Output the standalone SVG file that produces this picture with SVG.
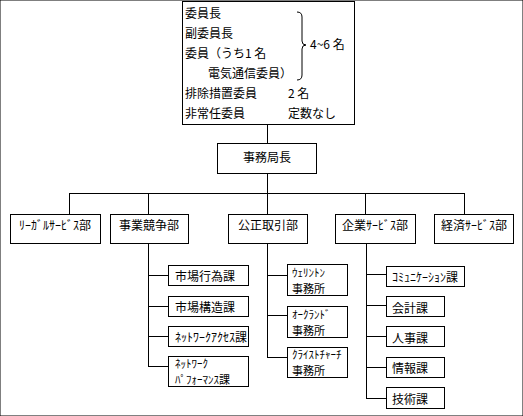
<svg xmlns="http://www.w3.org/2000/svg" width="523" height="416" viewBox="0 0 523 416">
<style>
rect{fill:#fff;stroke:#000;stroke-width:1}
.c line,.c path{stroke:#000;stroke-width:1;fill:none}
text{font-family:"Noto Sans CJK JP","Noto Sans",sans-serif;font-size:12px;fill:#000}
.m{text-anchor:middle}
.s{font-size:11px}
</style>
<rect width="523" height="416" fill="#fff" stroke="none"/>
<g class="c" shape-rendering="crispEdges">
<line x1="267.5" y1="124" x2="267.5" y2="143"/>
<line x1="267.5" y1="173" x2="267.5" y2="193"/>
<line x1="69.5" y1="193.5" x2="464.5" y2="193.5"/>
<line x1="69.5" y1="193" x2="69.5" y2="214"/>
<line x1="148.5" y1="193" x2="148.5" y2="214"/>
<line x1="267.5" y1="193" x2="267.5" y2="214"/>
<line x1="365.5" y1="193" x2="365.5" y2="214"/>
<line x1="464.5" y1="193" x2="464.5" y2="214"/>
<line x1="148.5" y1="243" x2="148.5" y2="366.5"/>
<line x1="148" y1="275.5" x2="168" y2="275.5"/>
<line x1="148" y1="306.5" x2="168" y2="306.5"/>
<line x1="148" y1="336.5" x2="168" y2="336.5"/>
<line x1="148" y1="366.5" x2="168" y2="366.5"/>
<line x1="267.5" y1="243" x2="267.5" y2="357.5"/>
<line x1="267" y1="275.5" x2="287" y2="275.5"/>
<line x1="267" y1="315.5" x2="287" y2="315.5"/>
<line x1="267" y1="357.5" x2="287" y2="357.5"/>
<line x1="366.5" y1="243" x2="366.5" y2="398.5"/>
<line x1="366" y1="274.5" x2="386" y2="274.5"/>
<line x1="366" y1="305.5" x2="386" y2="305.5"/>
<line x1="366" y1="336.5" x2="386" y2="336.5"/>
<line x1="366" y1="367.5" x2="386" y2="367.5"/>
<line x1="366" y1="398.5" x2="386" y2="398.5"/>
</g>
<g id="committee">
<rect x="182.5" y="1.5" width="172" height="123" shape-rendering="crispEdges"/>
<text x="185" y="18">委員長</text>
<text x="185" y="38">副委員長</text>
<text x="185" y="58">委員（うち1 名</text>
<text x="208" y="78">電気通信委員）</text>
<text x="185" y="98">排除措置委員</text>
<text x="288" y="98">2 名</text>
<text x="185" y="118">非常任委員</text>
<text x="288" y="118">定数なし</text>
<path d="M297,12 Q302,12 302,17 L302,41 Q302,45 306,45 Q302,45 302,49 L302,75 Q302,80 297,80" fill="none" stroke="#000" stroke-width="1"/>
<text x="310" y="49">4~6 名</text>
</g>
<g id="secretary"><rect x="217.5" y="143.5" width="99" height="30" shape-rendering="crispEdges"/><text class="m" x="267" y="162">事務局長</text></g>
<g id="legal"><rect x="10.5" y="214.5" width="90" height="29" shape-rendering="crispEdges"/><text class="m" x="55" y="230">ﾘｰｶﾞﾙｻｰﾋﾞｽ部</text></g>
<g id="competition"><rect x="110.5" y="214.5" width="78" height="29" shape-rendering="crispEdges"/><text class="m" x="149" y="230">事業競争部</text></g>
<g id="fairtrade"><rect x="228.5" y="214.5" width="79" height="29" shape-rendering="crispEdges"/><text class="m" x="268" y="230">公正取引部</text></g>
<g id="business"><rect x="335.5" y="214.5" width="80" height="29" shape-rendering="crispEdges"/><text class="m" x="375" y="230">企業ｻｰﾋﾞｽ部</text></g>
<g id="economic"><rect x="434.5" y="214.5" width="79" height="29" shape-rendering="crispEdges"/><text class="m" x="474" y="230">経済ｻｰﾋﾞｽ部</text></g>
<g id="market-conduct"><rect x="168.5" y="265.5" width="80" height="20" shape-rendering="crispEdges"/><text x="175" y="281">市場行為課</text></g>
<g id="market-structure"><rect x="168.5" y="296.5" width="80" height="20" shape-rendering="crispEdges"/><text x="175" y="312">市場構造課</text></g>
<g id="network-access"><rect x="168.5" y="326.5" width="80" height="20" shape-rendering="crispEdges"/><text x="175" y="342">ﾈｯﾄﾜｰｸｱｸｾｽ課</text></g>
<g id="network-performance"><rect x="168.5" y="356.5" width="80" height="30" shape-rendering="crispEdges"/><text class="s" x="175" y="368">ﾈｯﾄﾜｰｸ<tspan x="175" dy="16">ﾊﾟﾌｫｰﾏﾝｽ課</tspan></text></g>
<g id="wellington"><rect x="287.5" y="264.5" width="60" height="31" shape-rendering="crispEdges"/><text class="s" x="292" y="276.5">ｳｪﾘﾝﾄﾝ<tspan x="292" dy="16">事務所</tspan></text></g>
<g id="auckland"><rect x="287.5" y="306.5" width="60" height="31" shape-rendering="crispEdges"/><text class="s" x="292" y="318.5">ｵｰｸﾗﾝﾄﾞ<tspan x="292" dy="16">事務所</tspan></text></g>
<g id="christchurch"><rect x="287.5" y="347.5" width="60" height="30" shape-rendering="crispEdges"/><text class="s" x="292" y="358.5">ｸﾗｲｽﾄﾁｬｰﾁ<tspan x="292" dy="16">事務所</tspan></text></g>
<g id="communication"><rect x="386.5" y="266.5" width="78" height="20" shape-rendering="crispEdges"/><text x="392" y="282">ｺﾐｭﾆｹｰｼｮﾝ課</text></g>
<g id="accounting"><rect x="386.5" y="296.5" width="58" height="20" shape-rendering="crispEdges"/><text x="392" y="313">会計課</text></g>
<g id="personnel"><rect x="386.5" y="326.5" width="58" height="20" shape-rendering="crispEdges"/><text x="392" y="343">人事課</text></g>
<g id="information"><rect x="386.5" y="357.5" width="58" height="20" shape-rendering="crispEdges"/><text x="392" y="373">情報課</text></g>
<g id="technology"><rect x="386.5" y="387.5" width="58" height="21" shape-rendering="crispEdges"/><text x="392" y="404">技術課</text></g>
</svg>
